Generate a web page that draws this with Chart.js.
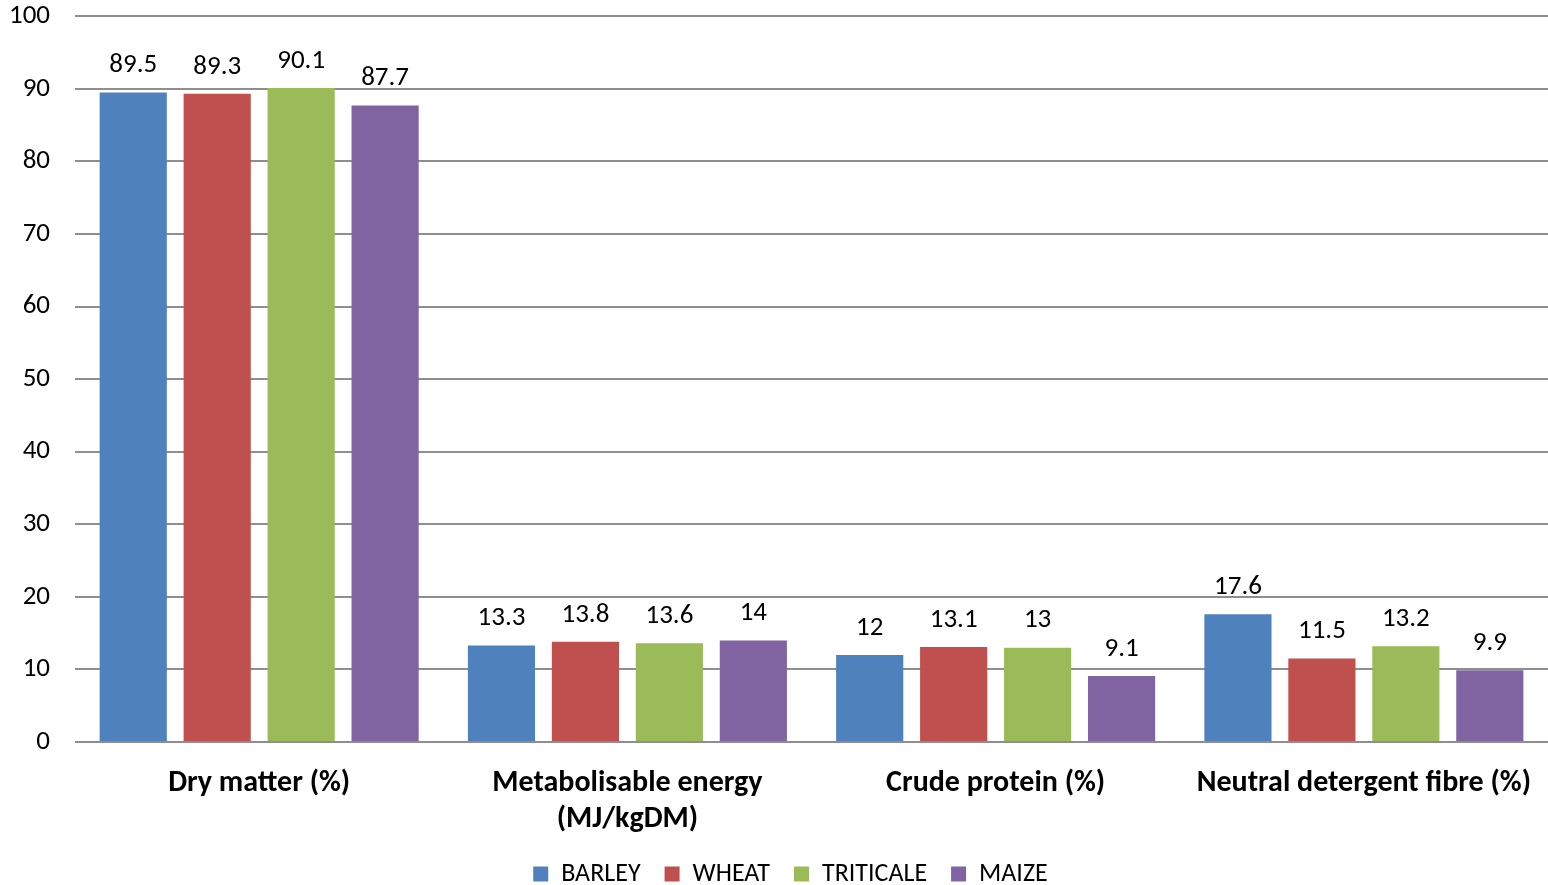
<!DOCTYPE html>
<html>
<head>
<meta charset="utf-8">
<script src="https://cdn.jsdelivr.net/npm/chart.js@4.4.0/dist/chart.umd.min.js"></script>
<style>
html,body{margin:0;padding:0;background:#fff;}
#wrap{width:1548px;height:885px;}
</style>
</head>
<body>
<div id="wrap"><canvas id="c" width="1548" height="885"></canvas></div>
<script>
const categories = [
  'Dry matter (%)',
  ['Metabolisable energy', '(MJ/kgDM)'],
  'Crude protein (%)',
  'Neutral detergent fibre (%)'
];
const barley = [89.5, 13.3, 12, 17.6];
const wheat = [89.3, 13.8, 13.1, 11.5];
const triticale = [90.1, 13.6, 13, 13.2];
const maize = [87.7, 14, 9.1, 9.9];
const seriesNames = ['BARLEY', 'WHEAT', 'TRITICALE', 'MAIZE'];
const seriesColors = ['#4F81BD', '#C0504D', '#9BBB59', '#8064A2'];

const FONT = 'Carlito, Lato, "Open Sans", sans-serif';

const valueLabels = {
  id: 'valueLabels',
  afterDatasetsDraw(chart) {
    const ctx = chart.ctx;
    ctx.save();
    ctx.font = '27px ' + FONT;
    ctx.fillStyle = '#000';
    ctx.textAlign = 'center';
    ctx.textBaseline = 'middle';
    chart.data.datasets.forEach((ds, i) => {
      const meta = chart.getDatasetMeta(i);
      meta.data.forEach((bar, j) => {
        ctx.fillText(String(ds.data[j]), bar.x, bar.y - 27);
      });
    });
    ctx.restore();
  }
};

const legendShift = {
  id: 'legendShift',
  afterLayout(chart) {
    if (chart.legend) { chart.legend.left += 12; chart.legend.right += 12; }
  }
};

const dataArrays = [barley, wheat, triticale, maize];
new Chart(document.getElementById('c'), {
  type: 'bar',
  data: {
    labels: categories,
    datasets: dataArrays.map((d, i) => ({
      label: seriesNames[i],
      data: d,
      backgroundColor: seriesColors[i],
      borderWidth: 0,
      categoryPercentage: 0.912,
      barPercentage: 0.8
    }))
  },
  options: {
    responsive: false,
    animation: false,
    layout: { padding: { left: 9, right: 0, top: 3, bottom: -12 } },
    scales: {
      x: {
        grid: { display: false, drawTicks: true, tickLength: 23 },
        border: { display: false },
        ticks: {
          color: '#000',
          font: { family: FONT, size: 30, weight: 'bold', lineHeight: 1.2 },
          padding: 0,
          maxRotation: 0,
          autoSkip: false
        }
      },
      y: {
        min: 0, max: 100,
        ticks: {
          stepSize: 10,
          color: '#000',
          font: { family: FONT, size: 27 },
          padding: 0
        },
        grid: { color: '#8e8e8e', lineWidth: 2, drawTicks: true, tickLength: 25, tickColor: 'rgba(0,0,0,0)' },
        border: { display: false }
      }
    },
    plugins: {
      legend: {
        position: 'bottom',
        labels: {
          boxWidth: 15,
          boxHeight: 15,
          padding: 24,
          color: '#000',
          font: { family: FONT, size: 26 }
        }
      },
      tooltip: { enabled: false }
    }
  },
  plugins: [valueLabels, legendShift]
});
</script>
</body>
</html>
